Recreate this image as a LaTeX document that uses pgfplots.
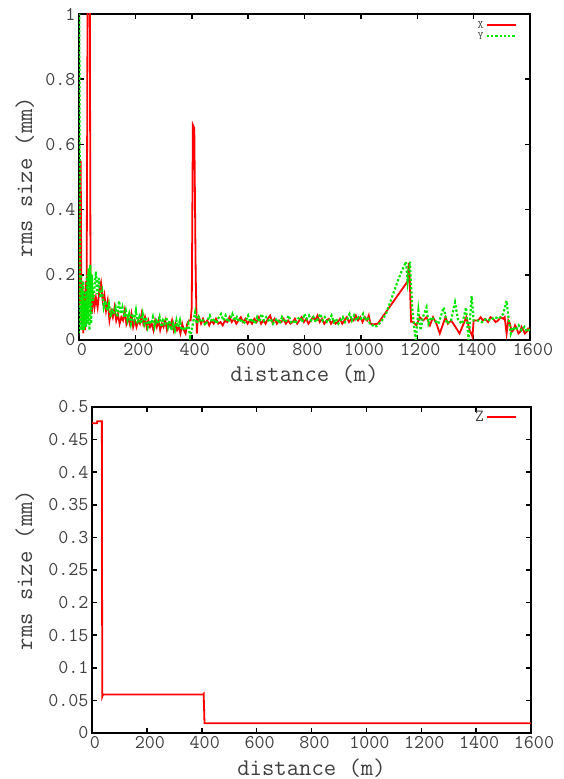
\documentclass[border=0pt]{standalone}
\usepackage{fontspec}
\usepackage{pgfplots}
\pgfplotsset{compat=1.18}
\definecolor{gred}{RGB}{255,0,0}
\definecolor{ggreen}{RGB}{0,230,0}
\pgfplotsset{
  gstyle/.style={
    scale only axis,
    anchor=south west,
    tick align=inside,
    major tick length=5pt,
    axis line style={line width=1.8pt},
    every tick/.style={black,line width=1.5pt},
    tick label style={font=\ttfamily\fontsize{19.5}{19.5}\selectfont, text=black!75},
    label style={font=\ttfamily\fontsize{24}{24}\selectfont, text=black!75},
    xticklabel style={xshift=3pt},
    /pgf/number format/assume math mode=true,
    /pgf/number format/1000 sep={},
    xlabel={distance (m)},
    ylabel={rms size (mm)},
    legend plot pos=right,
    legend cell align=right,
    legend image code/.code={\draw[##1] (0pt,0pt) -- (29pt,0pt);},
  }
}
\begin{document}
\begin{tikzpicture}[x=1pt,y=1pt]
\path[use as bounding box] (0,0) rectangle (564,779);
% ---------------- top axis ----------------
\begin{axis}[gstyle,
  at={(79pt,439pt)}, width=451pt, height=326pt,
  xmin=0, xmax=1600, ymin=0, ymax=1,
  xtick={0,200,400,600,800,1000,1200,1400,1600},
  ytick={0,0.2,0.4,0.6,0.8,1},
  xlabel style={at={(axis description cs:0.5,-0.104)}, anchor=center},
  ylabel style={at={(axis description cs:-0.12,0.5)}, anchor=center},
  legend style={at={(axis description cs:0.971,0.985)}, anchor=north east, draw=none, fill=none,
    font=\ttfamily\fontsize{11.5}{11.5}\selectfont, text=black!75, inner sep=0pt, row sep=-1.5pt},
]
\addplot[gred, line width=1.8pt] coordinates {
(0,0.1)(3,0.2)(6,0.55)(9,0.05)(12,0.18)(15,0.02)(18,0.15)(21,0.03)(24,0.18)(27,0.1)
(31,1.2)(38,1.2)(41,0.12)(45,0.08)(50,0.14)(55,0.1)(60,0.13)(66,0.1)(72,0.15)(78,0.175)
(84,0.12)(90,0.14)(96,0.09)(102,0.12)(108,0.06)(114,0.09)(120,0.07)(126,0.1)(132,0.06)(138,0.08)
(144,0.05)(150,0.07)(156,0.06)(162,0.09)(168,0.05)(174,0.07)(180,0.05)(186,0.08)(192,0.04)(198,0.06)
(204,0.04)(210,0.06)(216,0.05)(222,0.08)(228,0.05)(234,0.07)(240,0.04)(246,0.06)(252,0.04)(258,0.05)
(264,0.03)(270,0.06)(276,0.04)(282,0.06)(288,0.03)(294,0.05)(300,0.04)(306,0.06)(312,0.03)(318,0.05)
(324,0.04)(330,0.06)(336,0.03)(342,0.05)(348,0.03)(354,0.04)(360,0.02)(366,0.05)(372,0.03)(378,0.02)
(384,0.05)(390,0.06)(396,0.06)(400,0.1)(404,0.66)(409,0.65)(414,0.2)(418,0.02)
(422,0.07)(426,0.07)(433,0.05)(440,0.065)(447,0.05)(455,0.06)(462,0.045)(470,0.06)(478,0.05)(486,0.065)
(494,0.05)(502,0.055)(510,0.045)(518,0.06)(526,0.055)(534,0.07)(542,0.055)(550,0.065)(558,0.05)(566,0.06)
(574,0.07)(582,0.055)(590,0.065)(598,0.05)(606,0.06)(614,0.05)(622,0.065)(630,0.055)(638,0.07)(646,0.05)
(654,0.06)(662,0.05)(670,0.065)(678,0.075)(686,0.055)(694,0.065)(702,0.05)(710,0.06)(718,0.055)(726,0.065)
(734,0.05)(742,0.06)(750,0.05)(758,0.055)(766,0.065)(774,0.05)(782,0.06)(790,0.07)(798,0.055)(806,0.065)
(814,0.05)(822,0.06)(830,0.07)(838,0.06)(846,0.075)(854,0.055)(862,0.065)(870,0.05)(878,0.06)(886,0.065)
(894,0.05)(902,0.06)(910,0.05)(918,0.055)(926,0.065)(934,0.05)(942,0.06)(950,0.07)(958,0.055)(966,0.065)
(974,0.06)(982,0.075)(990,0.06)(998,0.07)(1006,0.055)(1014,0.07)(1022,0.06)(1028,0.075)(1034,0.05)(1045,0.048)
(1060,0.05)(1166,0.18)(1170,0.236)(1173,0.2)(1178,0.056)
(1185,0.056)(1197,0.045)(1209,0.07)(1221,0.06)(1233,0.07)(1245,0.045)(1256,0.07)(1268,0.05)(1280,0.02)(1292,0.05)
(1300,0.07)(1309,0.05)(1320,0.06)(1332,0.045)(1350,0.02)(1362,0.045)(1374,0.07)(1386,0.03)(1396,0.01)(1400,0.06)
(1416,0.06)(1425,0.07)(1433,0.06)(1441,0.065)(1451,0.055)(1460,0.07)(1469,0.065)(1478,0.055)(1487,0.06)(1496,0.07)(1505,0.065)
(1510,0.07)(1517,0.02)(1523,0.06)(1529,0.05)(1535,0.025)(1541,0.03)(1547,0.045)(1553,0.035)(1559,0.02)(1565,0.025)
(1570,0.04)(1576,0.03)(1582,0.02)(1588,0.025)(1594,0.035)(1600,0.03)
};
\addlegendentry{X}
\addplot[ggreen, line width=2.2pt, dash pattern=on 2.3pt off 2pt] coordinates {
(0,0.02)(1,1.0)(3,0.35)(5,0.05)(7,0.2)(9,0.03)(11,0.15)(13,0.04)(15,0.18)(17,0.03)
(19,0.12)(21,0.05)(23,0.15)(25,0.04)(28,0.2)(31,0.05)(34,0.22)(37,0.03)(40,0.23)(43,0.05)
(46,0.2)(50,0.12)(55,0.16)(60,0.21)(65,0.14)(70,0.19)(76,0.13)(82,0.15)(88,0.1)(94,0.12)
(100,0.09)(106,0.11)(112,0.07)(118,0.09)(124,0.08)(130,0.1)(136,0.07)(142,0.12)(148,0.08)(154,0.1)
(160,0.07)(166,0.09)(172,0.06)(178,0.08)(184,0.05)(190,0.08)(196,0.06)(202,0.09)(208,0.05)(214,0.07)
(220,0.05)(226,0.08)(232,0.05)(238,0.07)(244,0.04)(250,0.06)(256,0.05)(262,0.07)(268,0.04)(274,0.06)
(280,0.05)(286,0.07)(292,0.04)(298,0.06)(304,0.05)(310,0.07)(316,0.04)(322,0.06)(328,0.03)(334,0.05)
(340,0.03)(346,0.06)(352,0.04)(358,0.06)(364,0.03)(370,0.04)(380,0.03)(388,0.05)(394,0.01)(400,0.03)
(406,0.06)(412,0.085)(418,0.05)(425,0.07)(432,0.055)(440,0.06)(448,0.045)(456,0.06)(464,0.075)(472,0.055)
(480,0.065)(488,0.05)(496,0.07)(504,0.08)(512,0.06)(520,0.075)(528,0.055)(536,0.065)(544,0.08)(552,0.06)
(560,0.07)(568,0.055)(576,0.065)(584,0.05)(592,0.06)(600,0.075)(608,0.055)(616,0.065)(624,0.05)(632,0.07)
(640,0.055)(648,0.08)(656,0.06)(664,0.07)(672,0.06)(680,0.065)(688,0.05)(696,0.06)(704,0.065)(712,0.05)
(720,0.07)(728,0.055)(736,0.06)(744,0.075)(752,0.055)(760,0.06)(768,0.05)(776,0.065)(784,0.07)(792,0.055)
(800,0.08)(808,0.065)(816,0.075)(824,0.06)(832,0.07)(840,0.055)(848,0.065)(856,0.08)(864,0.06)(872,0.07)
(880,0.055)(888,0.06)(896,0.075)(904,0.055)(912,0.065)(920,0.05)(928,0.06)(936,0.07)(944,0.055)(952,0.065)
(960,0.08)(968,0.06)(976,0.075)(984,0.06)(992,0.07)(1000,0.065)(1008,0.08)(1016,0.06)(1024,0.07)(1032,0.05)
(1042,0.045)(1050,0.04)(1060,0.045)(1075,0.06)(1090,0.082)(1115,0.143)(1139,0.2)(1160,0.24)(1166,0.18)(1174,0.24)
(1182,0.1)(1189,0.04)(1195,0.0)(1204,0.09)(1212,0.03)(1220,0.07)(1233,0.1)(1240,0.05)(1250,0.07)(1262,0.06)
(1275,0.05)(1294,0.1)(1305,0.05)(1320,0.06)(1334,0.115)(1345,0.06)(1360,0.05)(1373,0.1)(1382,0.0)(1393,0.135)
(1400,0.06)(1415,0.06)(1430,0.055)(1445,0.065)(1460,0.06)(1475,0.07)(1490,0.065)(1505,0.08)(1517,0.12)(1525,0.06)
(1532,0.02)(1540,0.04)(1550,0.03)(1560,0.045)(1570,0.03)(1580,0.04)(1590,0.025)(1600,0.035)
};
\addlegendentry{Y}
\end{axis}
% ---------------- bottom axis ----------------
\begin{axis}[gstyle,
  at={(92pt,46pt)}, width=439pt, height=326pt,
  xmin=0, xmax=1600, ymin=0, ymax=0.5,
  xtick={0,200,400,600,800,1000,1200,1400,1600},
  ytick={0,0.05,0.1,0.15,0.2,0.25,0.3,0.35,0.4,0.45,0.5},
  yticklabel style={/pgf/number format/fixed, /pgf/number format/precision=2},
  xlabel style={at={(axis description cs:0.5,-0.107)}, anchor=center},
  ylabel style={at={(axis description cs:-0.153,0.5)}, anchor=center},
  legend style={at={(axis description cs:0.968,0.994)}, anchor=north east, draw=none, fill=none,
    font=\ttfamily\fontsize{17}{17}\selectfont, text=black!75, inner sep=0pt},
]
\addplot[gred, line width=1.8pt] coordinates {
(0,0.475)(18,0.475)(19,0.478)(36,0.478)(36.5,0.27)(37.5,0.056)(40,0.059)(405,0.059)(407,0.06)(410,0.015)(1600,0.015)
};
\addlegendentry{Z}
\end{axis}
\end{tikzpicture}
\end{document}
